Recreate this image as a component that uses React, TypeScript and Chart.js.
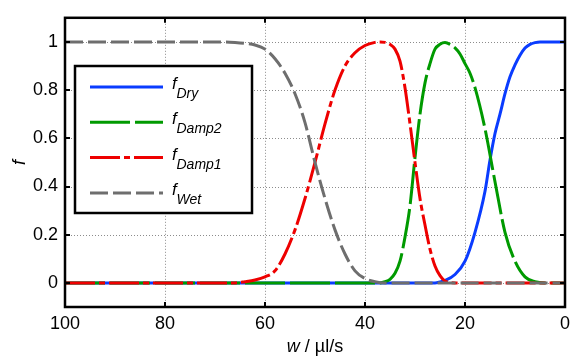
import React, { useEffect, useRef } from "react";
import { Chart, registerables } from "chart.js";

Chart.register(...registerables);

// ---- data ----
const xTicks = [100, 80, 60, 40, 20, 0];
const yTicks = [0, 0.2, 0.4, 0.6, 0.8, 1];
const yTickLabels = ["0", "0.2", "0.4", "0.6", "0.8", "1"];

const seriesNames = ["Dry", "Damp2", "Damp1", "Wet"];

const dryW = [100, 26, 25, 24, 22, 20, 18, 16, 15, 14, 13, 12, 11, 10, 9, 8, 7, 6, 5, 0];
const dryF = [0, 0, 0.004, 0.01, 0.035, 0.09, 0.21, 0.38, 0.51, 0.62, 0.7, 0.785, 0.855, 0.905, 0.945, 0.975, 0.99, 0.997, 1, 1];

const damp2W = [100, 37, 36, 35, 34, 33, 32, 31, 30, 29, 28, 27, 26, 25, 24, 23, 22, 21, 20, 19, 18, 16, 14, 12, 10, 8, 6, 4, 0];
const damp2F = [0, 0, 0.005, 0.015, 0.04, 0.09, 0.19, 0.32, 0.52, 0.7, 0.83, 0.91, 0.97, 0.99, 0.997, 0.99, 0.975, 0.95, 0.91, 0.87, 0.81, 0.64, 0.42, 0.21, 0.09, 0.025, 0.005, 0, 0];

const damp1W = [100, 66, 64, 62, 60, 58, 56, 54, 52, 50, 48, 46, 44, 42, 40, 38, 37, 36, 35, 34, 33, 32, 31, 30, 29, 28, 27, 26, 25, 24, 22, 0];
const damp1F = [0, 0, 0.005, 0.012, 0.025, 0.05, 0.12, 0.22, 0.35, 0.5, 0.66, 0.8, 0.9, 0.955, 0.985, 0.998, 1, 0.998, 0.99, 0.97, 0.92, 0.81, 0.66, 0.5, 0.35, 0.24, 0.14, 0.07, 0.03, 0.008, 0, 0];

const wetW = [100, 68, 66, 64, 62, 60, 58, 56, 54, 52, 50, 48, 46, 44, 42, 40, 38, 36, 0];
const wetF = [1, 1, 0.998, 0.994, 0.987, 0.97, 0.93, 0.87, 0.785, 0.665, 0.5, 0.35, 0.22, 0.12, 0.05, 0.018, 0.005, 0, 0];

const colors = ["#0a3cff", "#009a00", "#ee0000", "#6e6e6e"];
const dashes: number[][] = [[], [40, 5], [30, 4, 6, 4], [18, 5]];

const FONT = "'Liberation Sans', Arial, Helvetica, sans-serif";

export default function App() {
  const ref = useRef<HTMLCanvasElement>(null);

  useEffect(() => {
    document.body.style.margin = "0";
    const canvas = ref.current;
    if (!canvas) return;
    const ctx = canvas.getContext("2d")!;
    const toPts = (w: number[], f: number[]) => w.map((x, i) => ({ x, y: f[i] }));
    const allW = [dryW, damp2W, damp1W, wetW];
    const allF = [dryF, damp2F, damp1F, wetF];

    const decor = {
      id: "decor",
      beforeDatasetsDraw(chart: any) {
        const c = chart.ctx;
        const a = chart.chartArea;
        const xs = chart.scales.x;
        const ys = chart.scales.y;
        c.save();
        c.strokeStyle = "#8c8c8c";
        c.lineWidth = 1;
        c.setLineDash([1, 2]);
        xTicks.forEach((v) => {
          const px = Math.round(xs.getPixelForValue(v)) + 0.5;
          c.beginPath();
          c.moveTo(px, a.top);
          c.lineTo(px, a.bottom);
          c.stroke();
        });
        yTicks.forEach((v) => {
          const py = Math.round(ys.getPixelForValue(v)) + 0.5;
          c.beginPath();
          c.moveTo(a.left, py);
          c.lineTo(a.right, py);
          c.stroke();
        });
        c.restore();
      },
      afterDatasetsDraw(chart: any) {
        const c = chart.ctx;
        const a = chart.chartArea;
        const xs = chart.scales.x;
        const ys = chart.scales.y;
        c.save();
        // frame
        c.setLineDash([]);
        c.strokeStyle = "#000";
        c.lineWidth = 2.5;
        c.strokeRect(a.left, a.top, a.right - a.left, a.bottom - a.top);
        // inward ticks
        c.lineWidth = 2;
        const tl = 5;
        xTicks.forEach((v) => {
          const px = Math.round(xs.getPixelForValue(v));
          c.beginPath();
          c.moveTo(px, a.bottom);
          c.lineTo(px, a.bottom - tl);
          c.moveTo(px, a.top);
          c.lineTo(px, a.top + tl);
          c.stroke();
        });
        yTicks.forEach((v) => {
          const py = Math.round(ys.getPixelForValue(v));
          c.beginPath();
          c.moveTo(a.left, py);
          c.lineTo(a.left + tl, py);
          c.moveTo(a.right, py);
          c.lineTo(a.right - tl, py);
          c.stroke();
        });

        // legend box
        const lx = 75, ly = 66, lw = 177, lh = 147;
        c.fillStyle = "#fff";
        c.fillRect(lx, ly, lw, lh);
        c.lineWidth = 2.5;
        c.strokeRect(lx, ly, lw, lh);
        seriesNames.forEach((name, i) => {
          const yy = 87 + i * 35.3;
          c.strokeStyle = colors[i];
          c.lineWidth = 3;
          c.setLineDash(dashes[i]);
          c.beginPath();
          c.moveTo(90, yy);
          c.lineTo(163, yy);
          c.stroke();
          c.setLineDash([]);
          c.fillStyle = "#000";
          c.textAlign = "left";
          c.textBaseline = "alphabetic";
          c.font = `italic 17px ${FONT}`;
          c.fillText("f", 172, yy + 2);
          c.font = `italic 14px ${FONT}`;
          c.fillText(name, 176.5, yy + 11);
        });
        c.strokeStyle = "#000";

        // axis titles
        c.fillStyle = "#000";
        c.textBaseline = "alphabetic";
        const cx = (a.left + a.right) / 2;
        c.font = `italic 18px ${FONT}`;
        const w1 = c.measureText("w").width;
        c.font = `18px ${FONT}`;
        const w2 = c.measureText(" / µl/s").width;
        const sx = cx - (w1 + w2) / 2;
        c.textAlign = "left";
        c.font = `italic 18px ${FONT}`;
        c.fillText("w", sx, 352);
        c.font = `18px ${FONT}`;
        c.fillText(" / µl/s", sx + w1, 352);

        c.translate(20, (a.top + a.bottom) / 2);
        c.rotate(-Math.PI / 2);
        c.textAlign = "center";
        c.textBaseline = "middle";
        c.font = `italic 18px ${FONT}`;
        c.fillText("f", 0, 0);
        c.restore();
      },
    };

    const chart = new Chart(ctx, {
      type: "line",
      data: {
        datasets: seriesNames.map((name, i) => ({
          label: "f" + name,
          data: toPts(allW[i], allF[i]),
          borderColor: colors[i],
          borderWidth: 3,
          borderDash: dashes[i],
          borderCapStyle: "butt" as const,
          pointRadius: 0,
          fill: false,
          cubicInterpolationMode: "monotone" as const,
          order: 3 - i,
        })),
      },
      options: {
        responsive: false,
        animation: false,
        devicePixelRatio: 1,
        layout: { padding: { top: 6, right: 13, left: 0, bottom: 0 } },
        plugins: { legend: { display: false }, tooltip: { enabled: false } },
        scales: {
          x: {
            type: "linear",
            reverse: true,
            min: 0,
            max: 100,
            grid: { display: false, drawTicks: false },
            border: { display: false },
            afterBuildTicks: (s: any) => {
              s.ticks = xTicks.map((v) => ({ value: v }));
            },
            afterFit: (s: any) => {
              s.height = 54;
            },
            ticks: {
              color: "#000",
              font: { family: FONT, size: 18 },
              padding: 6,
              maxRotation: 0,
              autoSkip: false,
              callback: (v: any) => String(v),
            },
          },
          y: {
            type: "linear",
            min: -0.1,
            max: 1.1,
            grid: { display: false, drawTicks: false },
            border: { display: false },
            afterBuildTicks: (s: any) => {
              s.ticks = yTicks.map((v) => ({ value: v }));
            },
            afterFit: (s: any) => {
              s.width = 65;
            },
            ticks: {
              color: "#000",
              font: { family: FONT, size: 18 },
              padding: 7,
              autoSkip: false,
              callback: (_v: any, i: number) => yTickLabels[i],
            },
          },
        },
      },
      plugins: [decor],
    });
    return () => chart.destroy();
  }, []);

  return (
    <div style={{ width: 578, height: 361, background: "#fff" }}>
      <canvas ref={ref} width={578} height={361} style={{ display: "block" }} />
    </div>
  );
}
